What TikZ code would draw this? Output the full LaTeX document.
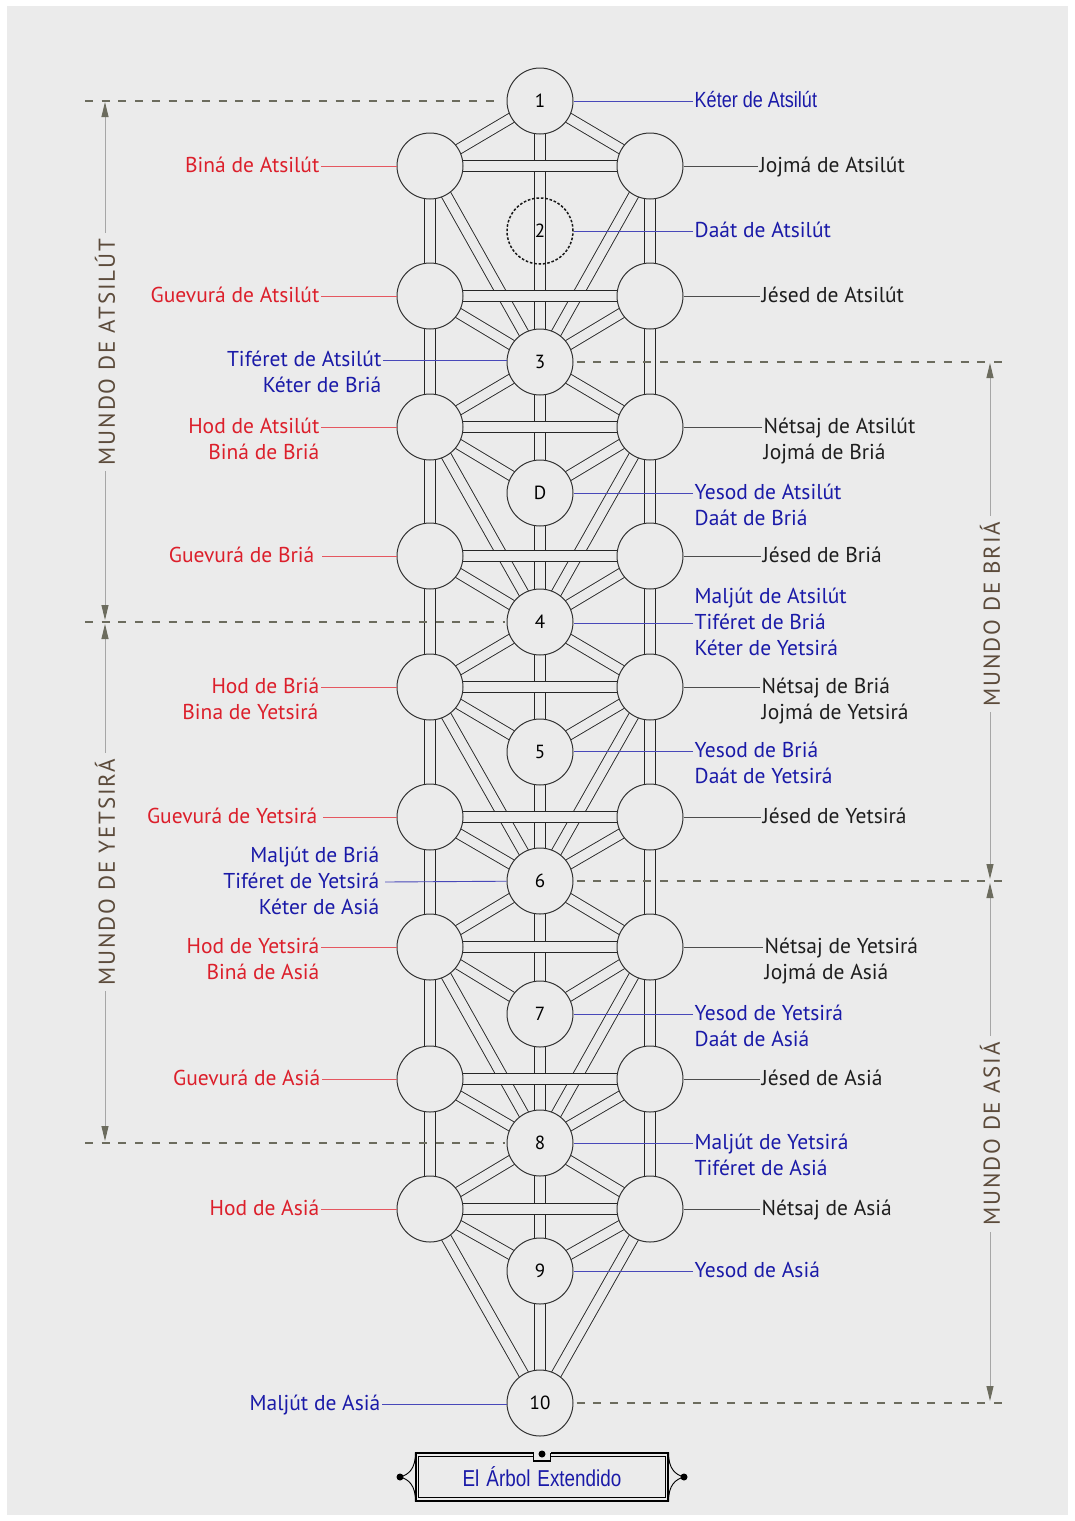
\documentclass[tikz,border=0pt]{standalone}
\usepackage{fontspec}
\setmainfont{PT Sans}
\newfontfamily\narrowsans[FakeStretch=0.82]{Liberation Sans}
\newfontfamily\mundosans[LetterSpace=8]{PT Sans}
\usetikzlibrary{arrows.meta,calc,positioning}

\definecolor{bg}{HTML}{EBEBEB}
\definecolor{lblred}{HTML}{DC1F2B}
\definecolor{lblblue}{HTML}{1A1AA8}
\definecolor{lblblack}{HTML}{1E1E1E}
\definecolor{mundotext}{HTML}{5C4B3B}
\definecolor{dashgray}{HTML}{6C6C5E}

\pgfdeclarelayer{back}
\pgfdeclarelayer{tubes}
\pgfsetlayers{back,tubes,main}

\newcommand{\lblfont}{\fontsize{21.5}{24}\selectfont}
\newcommand{\numfont}{\fontsize{19}{20}\selectfont}

\begin{document}
\begin{tikzpicture}[
    x=1pt,
    y=-1pt,
    sefira/.style={circle, draw=black!80, fill=bg, line width=1pt, minimum size=66pt, inner sep=0pt, font=\numfont},
    daat/.style={circle, draw=black!90, line width=1.5pt, dash pattern=on 2.6pt off 1.8pt, minimum size=66pt, inner sep=0pt, font=\numfont},
    tube/.style={draw=black!85, line width=0.9pt, double=bg, double distance=9.4pt},
    lbl/.style={anchor=east, inner sep=1.5pt, text height=15pt, text depth=3pt, font=\lblfont},
    lbr/.style={anchor=west, inner sep=1.5pt, text height=15pt, text depth=3pt, font=\lblfont},
    redline/.style={draw=lblred!75, line width=0.9pt},
    blueline/.style={draw=lblblue!80, line width=0.9pt},
    blackline/.style={draw=black!70, line width=0.9pt},
    worldline/.style={draw=dashgray, line width=1.5pt, dash pattern=on 8pt off 8.7pt},
    dimline/.style={draw=black!35, line width=1pt, {Triangle[length=15pt, width=7pt, color=dashgray]}-{Triangle[length=15pt, width=7pt, color=dashgray]}},
    mundo/.style={rotate=90, fill=bg, text=mundotext, inner sep=6pt, font=\mundosans\fontsize{23}{24}\selectfont},
    titlebox/.style={draw, line width=1.4pt, minimum width=252pt, minimum height=48pt, text=lblblue, font=\narrowsans\fontsize{23}{24}\selectfont},
    dot/.style={circle, fill, inner sep=0pt, minimum size=7pt}
]
\useasboundingbox (0,0) rectangle (1075,1521);
\begin{pgfonlayer}{back}
\fill[white] (0,0) rectangle (1075,1521);
\fill[bg] (7,6) rectangle (1068,1515);
\end{pgfonlayer}

% middle column
\node[sefira] (k1) at (540,101) {1};
\node[daat] (k2) at (540,231) {2};
\node[sefira] (k3) at (540,362) {3};
\node[sefira] (kD) at (540,493) {D};
\node[sefira] (k4) at (540,622) {4};
\node[sefira] (k5) at (540,752) {5};
\node[sefira] (k6) at (540,881) {6};
\node[sefira] (k7) at (540,1014) {7};
\node[sefira] (k8) at (540,1143) {8};
\node[sefira] (k9) at (540,1271) {9};
\node[sefira] (k10) at (540,1403) {10};
% side columns
\node[sefira] (L1) at (430,166) {};
\node[sefira] (R1) at (650,166) {};
\node[sefira] (L2) at (430,296) {};
\node[sefira] (R2) at (650,296) {};
\node[sefira] (L3) at (430,427) {};
\node[sefira] (R3) at (650,427) {};
\node[sefira] (L4) at (430,556) {};
\node[sefira] (R4) at (650,556) {};
\node[sefira] (L5) at (430,687) {};
\node[sefira] (R5) at (650,687) {};
\node[sefira] (L6) at (430,817) {};
\node[sefira] (R6) at (650,817) {};
\node[sefira] (L7) at (430,947) {};
\node[sefira] (R7) at (650,947) {};
\node[sefira] (L8) at (430,1079) {};
\node[sefira] (R8) at (650,1079) {};
\node[sefira] (L9) at (430,1209) {};
\node[sefira] (R9) at (650,1209) {};

\begin{pgfonlayer}{tubes}
% verticals
\draw[tube] (L1.center) -- (L9.center);
\draw[tube] (R1.center) -- (R9.center);
\draw[tube] (k1.center) -- (k10.center);
% diagonals
\draw[tube] (k1.center) -- (L1.center);
\draw[tube] (k1.center) -- (R1.center);
\draw[tube] (L1.center) -- (k3.center);
\draw[tube] (R1.center) -- (k3.center);
\draw[tube] (L2.center) -- (k3.center);
\draw[tube] (R2.center) -- (k3.center);
\draw[tube] (k3.center) -- (L3.center);
\draw[tube] (k3.center) -- (R3.center);
\draw[tube] (L3.center) -- (kD.center);
\draw[tube] (R3.center) -- (kD.center);
\draw[tube] (L3.center) -- (k4.center);
\draw[tube] (R3.center) -- (k4.center);
\draw[tube] (L4.center) -- (k4.center);
\draw[tube] (R4.center) -- (k4.center);
\draw[tube] (k4.center) -- (L5.center);
\draw[tube] (k4.center) -- (R5.center);
\draw[tube] (L5.center) -- (k5.center);
\draw[tube] (R5.center) -- (k5.center);
\draw[tube] (L5.center) -- (k6.center);
\draw[tube] (R5.center) -- (k6.center);
\draw[tube] (L6.center) -- (k6.center);
\draw[tube] (R6.center) -- (k6.center);
\draw[tube] (k6.center) -- (L7.center);
\draw[tube] (k6.center) -- (R7.center);
\draw[tube] (L7.center) -- (k7.center);
\draw[tube] (R7.center) -- (k7.center);
\draw[tube] (L7.center) -- (k8.center);
\draw[tube] (R7.center) -- (k8.center);
\draw[tube] (L8.center) -- (k8.center);
\draw[tube] (R8.center) -- (k8.center);
\draw[tube] (k8.center) -- (L9.center);
\draw[tube] (k8.center) -- (R9.center);
\draw[tube] (L9.center) -- (k9.center);
\draw[tube] (R9.center) -- (k9.center);
\draw[tube] (L9.center) -- (k10.center);
\draw[tube] (R9.center) -- (k10.center);
% horizontals
\draw[tube] (L1.center) -- (R1.center);
\draw[tube] (L2.center) -- (R2.center);
\draw[tube] (L3.center) -- (R3.center);
\draw[tube] (L4.center) -- (R4.center);
\draw[tube] (L5.center) -- (R5.center);
\draw[tube] (L6.center) -- (R6.center);
\draw[tube] (L7.center) -- (R7.center);
\draw[tube] (L8.center) -- (R8.center);
\draw[tube] (L9.center) -- (R9.center);
\end{pgfonlayer}

% left labels
\node[lbl, text=lblred] (binaA) at (321,166) {Biná de Atsilút};
\node[lbl, text=lblred] (guevA) at (321,296) {Guevurá de Atsilút};
\node[lbl, text=lblblue] (tifA) at (383,360) {Tiféret de Atsilút};
\node[lbl, text=lblblue] (ketB) at (383,386) {Kéter de Briá};
\node[lbl, text=lblred] (hodA) at (321,427) {Hod de Atsilút};
\node[lbl, text=lblred] (binaB) at (321,453) {Biná de Briá};
\node[lbl, text=lblred] (guevB) at (316,556) {Guevurá de Briá};
\node[lbl, text=lblred] (hodB) at (321,687) {Hod de Briá};
\node[lbl, text=lblred] (binaY) at (320,713) {Bina de Yetsirá};
\node[lbl, text=lblred] (guevY) at (319,817) {Guevurá de Yetsirá};
\node[lbl, text=lblblue] (maljB) at (381,856) {Maljút de Briá};
\node[lbl, text=lblblue] (tifY) at (381,882) {Tiféret de Yetsirá};
\node[lbl, text=lblblue] (ketAs) at (381,908) {Kéter de Asiá};
\node[lbl, text=lblred] (hodY) at (321,947) {Hod de Yetsirá};
\node[lbl, text=lblred] (binaAs) at (321,973) {Biná de Asiá};
\node[lbl, text=lblred] (guevAs) at (322,1079) {Guevurá de Asiá};
\node[lbl, text=lblred] (hodAs) at (321,1209) {Hod de Asiá};
\node[lbl, text=lblblue] (maljAs) at (382,1404) {Maljút de Asiá};

% right labels
\node[lbr, text=lblblue, font=\narrowsans\fontsize{22}{24}\selectfont] (ketA) at (693,101) {Kéter de Atsilút};
\node[lbr, text=lblblack] (jojA) at (758,166) {Jojmá de Atsilút};
\node[lbr, text=lblblue] (daatA) at (693,231) {Daát de Atsilút};
\node[lbr, text=lblblack] (jesA) at (760,296) {Jésed de Atsilút};
\node[lbr, text=lblblack] (netA) at (762,427) {Nétsaj de Atsilút};
\node[lbr, text=lblblack] (jojB) at (762,453) {Jojmá de Briá};
\node[lbr, text=lblblue] (yesA) at (693,493) {Yesod de Atsilút};
\node[lbr, text=lblblue] (daatB) at (693,519) {Daát de Briá};
\node[lbr, text=lblblack] (jesB) at (761,556) {Jésed de Briá};
\node[lbr, text=lblblue] (maljA) at (693,597) {Maljút de Atsilút};
\node[lbr, text=lblblue] (tifB) at (693,623) {Tiféret de Briá};
\node[lbr, text=lblblue] (ketY) at (693,649) {Kéter de Yetsirá};
\node[lbr, text=lblblack] (netB) at (760,687) {Nétsaj de Briá};
\node[lbr, text=lblblack] (jojY) at (760,713) {Jojmá de Yetsirá};
\node[lbr, text=lblblue] (yesB) at (693,751) {Yesod de Briá};
\node[lbr, text=lblblue] (daatY) at (693,777) {Daát de Yetsirá};
\node[lbr, text=lblblack] (jesY) at (761,817) {Jésed de Yetsirá};
\node[lbr, text=lblblack] (netY) at (763,947) {Nétsaj de Yetsirá};
\node[lbr, text=lblblack] (jojAs) at (763,973) {Jojmá de Asiá};
\node[lbr, text=lblblue] (yesY) at (693,1014) {Yesod de Yetsirá};
\node[lbr, text=lblblue] (daatAs) at (693,1040) {Daát de Asiá};
\node[lbr, text=lblblack] (jesAs) at (760,1079) {Jésed de Asiá};
\node[lbr, text=lblblue] (maljY) at (693,1143) {Maljút de Yetsirá};
\node[lbr, text=lblblue] (tifAs) at (693,1169) {Tiféret de Asiá};
\node[lbr, text=lblblack] (netAs) at (760,1209) {Nétsaj de Asiá};
\node[lbr, text=lblblue] (yesAs) at (693,1271) {Yesod de Asiá};

% label leaders
\draw[redline] (binaA.east) -- (L1);
\draw[redline] (guevA.east) -- (L2);
\draw[redline] (hodA.east) -- (L3);
\draw[redline] ([xshift=6pt]guevB.east) -- (L4);
\draw[redline] (hodB.east) -- (L5);
\draw[redline] ([xshift=4pt]guevY.east) -- (L6);
\draw[redline] (hodY.east) -- (L7);
\draw[redline] (guevAs.east) -- (L8);
\draw[redline] (hodAs.east) -- (L9);
\draw[blueline] (tifA.east) -- (tifA.east -| k3.west);
\draw[blueline] ([xshift=4pt]tifY.east) -- (k6);
\draw[blueline] (maljAs.east) -- (maljAs.east -| k10.west);
\draw[blueline] (ketA.west) -- (k1);
\draw[blueline] (daatA.west) -- (k2);
\draw[blueline] (yesA.west) -- (kD);
\draw[blueline] (tifB.west) -- (tifB.west -| k4.east);
\draw[blueline] (yesB.west) -- (yesB.west -| k5.east);
\draw[blueline] (yesY.west) -- (k7);
\draw[blueline] (maljY.west) -- (k8);
\draw[blueline] (yesAs.west) -- (k9);
\draw[blackline] (jojA.west) -- (R1);
\draw[blackline] (jesA.west) -- (R2);
\draw[blackline] (netA.west) -- (R3);
\draw[blackline] (jesB.west) -- (R4);
\draw[blackline] (netB.west) -- (R5);
\draw[blackline] (jesY.west) -- (R6);
\draw[blackline] (netY.west) -- (R7);
\draw[blackline] (jesAs.west) -- (R8);
\draw[blackline] (netAs.west) -- (R9);

% world boundaries
\coordinate (wAts) at (85,101);
\coordinate (wBri) at (1006,362);
\coordinate (wYet) at (85,622);
\coordinate (wAsi) at (1006,881);
\coordinate (wEndY) at (85,1143);
\coordinate (wEndA) at (1006,1403);
\draw[worldline] (wAts) -- ([xshift=-8pt]k1.west);
\draw[worldline] ([xshift=3pt]k3.east) -- (wBri);
\draw[worldline] (wYet) -- ([xshift=-2pt]k4.west);
\draw[worldline] ([xshift=3pt]k6.east) -- (wAsi);
\draw[worldline] (wEndY) -- ([xshift=-2pt]k8.west);
\draw[worldline] ([xshift=3pt]k10.east) -- (wEndA);

% world spans
\coordinate (atsTop) at (105,102);
\coordinate (atsBot) at (105,620);
\coordinate (yetTop) at (105,624);
\coordinate (yetBot) at (105,1141);
\coordinate (briTop) at (990,363);
\coordinate (briBot) at (990,879);
\coordinate (asiTop) at (990,883);
\coordinate (asiBot) at (990,1401);
\draw[dimline] (atsTop) -- (atsBot);
\draw[dimline] (yetTop) -- (yetBot);
\draw[dimline] (briTop) -- (briBot);
\draw[dimline] (asiTop) -- (asiBot);
\node[mundo] (mAts) at (105,352) {MUNDO DE ATSILÚT};
\node[mundo] (mYet) at (105,872) {MUNDO DE YETSIRÁ};
\node[mundo] (mBri) at (990,614) {MUNDO DE BRIÁ};
\node[mundo] (mAsi) at (990,1134) {MUNDO DE ASIÁ};

% title plate
\node[titlebox] (title) at (542,1477) {El\hspace{7pt}Árbol\hspace{7pt}Extendido};
\draw[line width=0.8pt] ([shift={(3,4)}]title.north west) rectangle ([shift={(-3,-4)}]title.south east);
\fill[bg] (533.5,1451.5) rectangle (550.5,1459.8);
\draw[line width=1.4pt] (533.5,1453) -- (533.5,1461) -- (550.5,1461) -- (550.5,1453);
\node[dot] (pin) at (542,1454) {};
\coordinate (tipL) at (400,1477);
\coordinate (tipR) at (684,1477);
\draw[line width=0.9pt] (title.north west) .. controls (416,1469) and (408,1475) .. (tipL) .. controls (408,1479) and (416,1485) .. (title.south west);
\draw[line width=0.9pt] (title.north east) .. controls (668,1469) and (676,1475) .. (tipR) .. controls (676,1479) and (668,1485) .. (title.south east);
\node[dot] (dotL) at (tipL) {};
\node[dot] (dotR) at (tipR) {};
\end{tikzpicture}
\end{document}
